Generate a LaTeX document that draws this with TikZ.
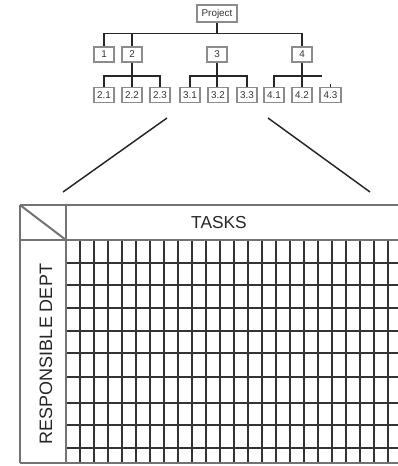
\documentclass[tikz,border=0pt]{standalone}
\usepackage{fontspec}
\setmainfont{Liberation Sans}
\begin{document}
\begin{tikzpicture}[x=0.75pt,y=-0.75pt,
  wbsbox/.style={draw=black!45,line width=1.3pt,fill=white,inner sep=0pt,
    minimum width=15.5pt,minimum height=11.2pt,font=\fontsize{7.4}{8}\selectfont,text=black!80},
  conn/.style={line width=1.3pt,black!85},
  frame/.style={line width=1.5pt,black!55},
  gridline/.style={line width=0.95pt,black!80},
  slant/.style={line width=1.1pt,black!85}]
\useasboundingbox (0,0) rectangle (398,466);

% work breakdown structure
\node[wbsbox,minimum width=29.5pt,minimum height=12.8pt] (proj) at (217,13.5) {Project};
\node[wbsbox] (n1) at (104,54.5) {1};
\node[wbsbox] (n2) at (132,54.5) {2};
\node[wbsbox] (n3) at (217,54.5) {3};
\node[wbsbox] (n4) at (302,54.5) {4};
\node[wbsbox] (n21) at (104,95) {2.1};
\node[wbsbox] (n22) at (132,95) {2.2};
\node[wbsbox] (n23) at (160,95) {2.3};
\node[wbsbox] (n31) at (190,95) {3.1};
\node[wbsbox] (n32) at (218,95) {3.2};
\node[wbsbox] (n33) at (247,95) {3.3};
\node[wbsbox] (n41) at (274,95) {4.1};
\node[wbsbox] (n42) at (302,95) {4.2};
\node[wbsbox] (n43) at (330.5,95) {4.3};

\coordinate (b1) at (217,33.5);
\coordinate (b2) at (132,76);
\coordinate (b3) at (217,76);
\coordinate (b4) at (302,76);
\coordinate (b4end) at (322,76);

\draw[conn] (proj.south) -- (b1);
\draw[conn] (n1.north) -- (n1.north |- b1) -- (n4.north |- b1) -- (n4.north);
\draw[conn] (n2.north) -- (n2.north |- b1);

\draw[conn] (n21.north) -- (n21.north |- b2) -- (n23.north |- b2) -- (n23.north);
\draw[conn] (n2.south) -- (n2.south |- n22.north);

\draw[conn] (n31.north) -- (n31.north |- b3) -- (n33.north |- b3) -- (n33.north);
\draw[conn] (n3.south) -- (n3.south |- n32.north);

\draw[conn] (n41.north) -- (n41.north |- b4) -- (b4end);
\draw[conn] (n4.south) -- (n4.south |- n42.north);
\draw[conn] (n43.north) -- ++(0,-2.5);

% lines fanning out to the matrix
\coordinate (fl1) at (167,118);
\coordinate (fl2) at (63,192);
\coordinate (fr1) at (268,118);
\coordinate (fr2) at (370,192);
\draw[slant] (fl1) -- (fl2);
\draw[slant] (fr1) -- (fr2);

% responsibility matrix
\foreach \k in {1,...,23}
  \draw[gridline] ({66+14*\k},240) -- ({66+14*\k},463);
\foreach \y in {263,285,308,331,353,377,403,425,448}
  \draw[gridline] (66,\y) -- (398,\y);
\draw[frame] (20,205) -- (398,205);
\draw[frame] (20,240) -- (398,240);
\draw[frame] (20,463) -- (398,463);
\draw[frame] (20,205) -- (20,463);
\draw[frame] (66,205) -- (66,463);
\draw[frame] (20,205) -- (66,240);

\node[font=\fontsize{13}{14}\selectfont,text=black!85] (tasks) at (219,222.5) {TASKS};
\node[font=\fontsize{13.5}{14}\selectfont,text=black!85,rotate=90] (dept) at (46,354) {RESPONSIBLE DEPT};
\end{tikzpicture}
\end{document}
